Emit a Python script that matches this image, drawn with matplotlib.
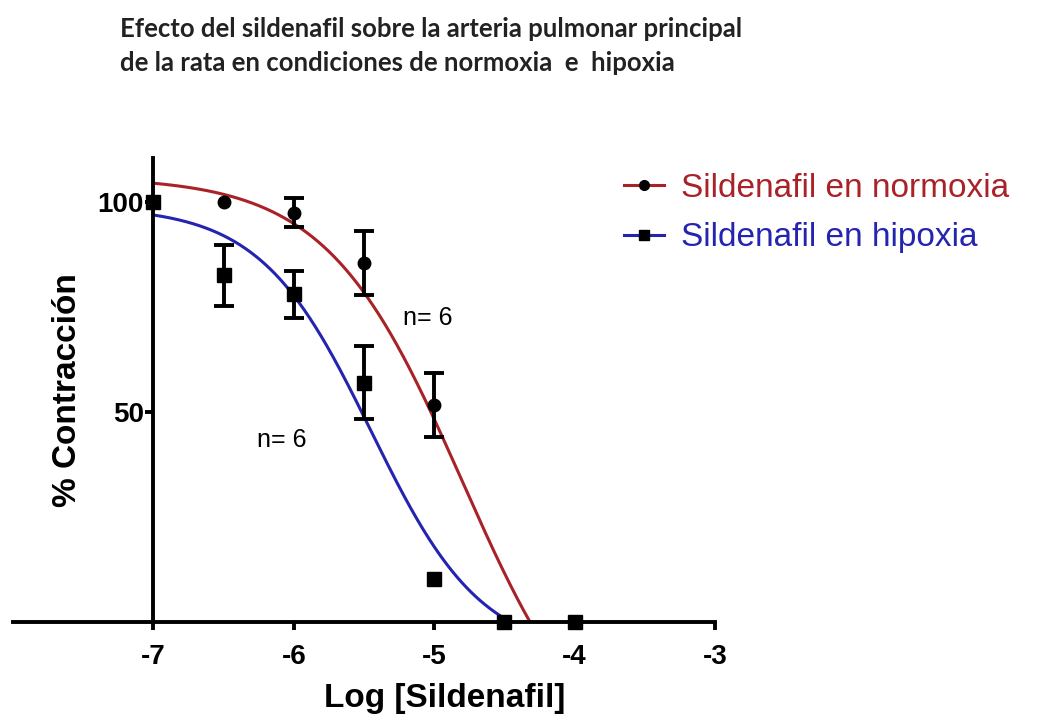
import matplotlib
matplotlib.use("Agg")
import matplotlib.pyplot as plt
import numpy as np
from matplotlib.lines import Line2D

plt.rcParams["font.family"] = ["Liberation Sans", "DejaVu Sans"]
plt.rcParams["axes.unicode_minus"] = False

# Data
log_conc = [-7, -6.5, -6, -5.5, -5, -4.5, -4]
normoxia = [100, 100, 97.5, 85.5, 51.7, 0, 0]
normoxia_sem = [0, 0, 3.5, 7.7, 7.7, 0, 0]
hipoxia = [100, 82.6, 78.0, 57.0, 10.2, 0, 0]
hipoxia_sem = [0, 7.3, 5.5, 8.7, 0, 0, 0]

# Fitted sigmoid parameters (top, bottom, logEC50, hill)
fit_normoxia = (106, -39, -4.80, 0.90)
fit_hipoxia = (99, -8, -5.45, 1.10)

labels = ["Sildenafil en normoxia", "Sildenafil en hipoxia"]
n_labels = ["n= 6", "n= 6"]
title = ("Efecto del sildenafil sobre la arteria pulmonar principal\n"
         "de la rata en condiciones de normoxia  e  hipoxia")

RED = "#a82228"
BLUE = "#2424b0"


def sigmoid(x, top, bottom, logec50, hill):
    return bottom + (top - bottom) / (1 + 10 ** (hill * (x - logec50)))


fig = plt.figure(figsize=(10.37, 7.19), dpi=100)
ax = fig.add_axes([13 / 1037, 97 / 719, 702 / 1037, 464 / 719])

xs = np.linspace(-7, -3, 500)
ax.plot(xs, sigmoid(xs, *fit_normoxia), color=RED, lw=2.2, zorder=2)
ax.plot(xs, sigmoid(xs, *fit_hipoxia), color=BLUE, lw=2.2, zorder=2)


def draw_series(y, sem, marker, ms):
    x = np.array(log_conc)
    y = np.array(y)
    sem = np.array(sem)
    m = sem > 0
    ax.errorbar(x[m], y[m], yerr=sem[m], fmt="none", ecolor="black",
                elinewidth=2.8, capsize=7, capthick=2.8, zorder=3)
    ax.plot(x, y, linestyle="none", marker=marker, ms=ms, color="black",
            clip_on=False, zorder=4)


draw_series(normoxia, normoxia_sem, "o", 9)
draw_series(hipoxia, hipoxia_sem, "s", 9.5)

ax.set_xlim(-8, -3)
ax.set_ylim(0, 110.5)
ax.spines["top"].set_visible(False)
ax.spines["right"].set_visible(False)
ax.spines["left"].set_position(("data", -7))
for s in ("left", "bottom"):
    ax.spines[s].set_linewidth(2.8)
ax.set_xticks([-7, -6, -5, -4, -3])
ax.set_yticks([50, 100])
ax.tick_params(width=2.8, length=6, labelsize=20)
ax.tick_params(axis="x", pad=10)
ax.tick_params(axis="y", pad=1)
for lab in ax.get_xticklabels() + ax.get_yticklabels():
    lab.set_fontweight("bold")
ax.patch.set_visible(False)

ax.set_xlabel("Log [Sildenafil]", fontsize=24, fontweight="bold")
ax.xaxis.set_label_coords((445 - 13) / 702, -(699 - 622) / 464)
ax.xaxis.label.set_va("center")
fig.text(68 / 1037, 1 - 390 / 719, "% Contracción", rotation=90, fontsize=24,
         fontweight="bold", ha="center", va="center")

ax.text(-5.22, 72.4, n_labels[0], fontsize=18, va="center", ha="left")
ax.text(-6.26, 43.3, n_labels[1], fontsize=18, va="center", ha="left")

handles = [
    Line2D([], [], color=RED, lw=2.2, marker="o", ms=7, mfc="black", mec="black"),
    Line2D([], [], color=BLUE, lw=2.2, marker="s", ms=7, mfc="black", mec="black"),
]
fig.legend(handles, labels, loc="center left",
           bbox_to_anchor=(594 / 1037, 1 - 213 / 719), frameon=False,
           fontsize=24, handlelength=1.2, handletextpad=0.5, labelspacing=0.55,
           labelcolor=[RED, BLUE])

fig.text(120 / 1037, 1 - 17 / 719, title, fontsize=18.5, fontweight="bold",
         family=["Lato", "DejaVu Sans"], va="top", ha="left",
         linespacing=1.5, color="#222222")

fig.savefig("out.png", dpi=100)
